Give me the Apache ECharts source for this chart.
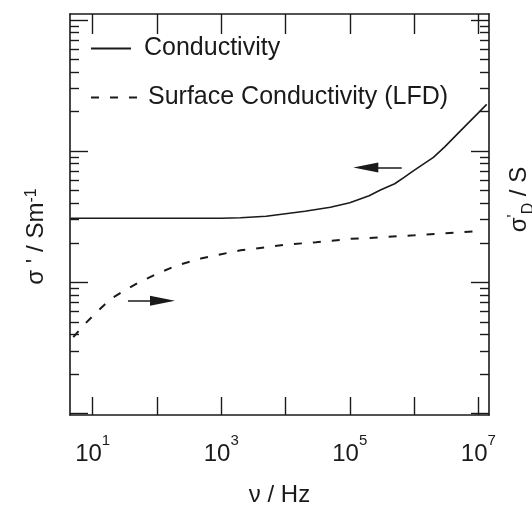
<!DOCTYPE html>
<html><head><meta charset="utf-8">
<script src="https://cdn.jsdelivr.net/npm/echarts@6/dist/echarts.min.js"></script>
<style>html,body{margin:0;padding:0;background:#fff}#c{width:532px;height:505px}</style>
</head><body><div id="c"></div>
<script>
// ---- data ----
const freqCond  = [4.5, 1e3, 2e3, 5e3, 1e4, 2e4, 5e4, 1e5, 2e5, 3e5, 5e5, 7e5, 1e6, 2e6, 3e6, 5e6, 7e6, 1e7, 1.35e7];
const condValues = [3.074e-3, 3.074e-3, 3.10e-3, 3.184e-3, 3.327e-3, 3.476e-3, 3.728e-3, 4.034e-3, 4.561e-3, 5.04e-3, 5.629e-3, 6.306e-3, 7.128e-3, 8.956e-3, 1.0765e-2, 1.388e-2, 1.639e-2, 1.953e-2, 2.266e-2];
const freqSurf  = [5, 7, 10, 15, 20, 30, 50, 70, 100, 200, 500, 1e3, 2e3, 5e3, 1e4, 3e4, 1e5, 3e5, 1e6, 3e6, 1e7];
const surfValues = [3.82e-10, 4.63e-10, 5.52e-10, 6.69e-10, 7.57e-10, 8.55e-10, 9.84e-10, 1.065e-9, 1.162e-9, 1.337e-9, 1.525e-9, 1.636e-9, 1.754e-9, 1.849e-9, 1.932e-9, 2.02e-9, 2.14e-9, 2.20e-9, 2.28e-9, 2.36e-9, 2.45e-9];

// ---- axes ----
const xRange = [4.44, 1.466e7];
const leftRange = [9.741e-5, 0.1107];
const rightRange = [9.741e-11, 1.107e-7];
const xMajorTicks = [10, 100, 1e3, 1e4, 1e5, 1e6, 1e7];
const xLabelTicks = [10, 1e3, 1e5, 1e7];
const leftDecades = [1e-5, 1e-4, 1e-3, 1e-2, 1e-1];
const rightDecades = [1e-11, 1e-10, 1e-9, 1e-8, 1e-7];
const minorMultipliers = [2, 3, 4, 5, 6, 7, 8, 9];

// ---- annotation arrows (data coordinates) ----
const arrowCond = [[6.43e5, 7.48e-3], [1.775e5, 7.48e-3]];
const arrowSurf = [[35.4, 7.22e-10], [121.9, 7.22e-10]];

const INK = '#1a1a1a';
const FONT = 'Liberation Sans';

function minors(decades) {
  const out = [];
  decades.forEach(d => minorMultipliers.forEach(m => out.push(m * d)));
  return out;
}
function pairs(xs, ys) { return xs.map((x, i) => [x, ys[i]]); }

const lineAxis = {show: true, onZero: false, lineStyle: {color: INK, width: 1.6}};
function yAx(pos, range, ticks, len, showLine, extra) {
  return Object.assign({
    type: 'log', position: pos, min: range[0], max: range[1],
    axisLine: showLine ? lineAxis : {show: false},
    axisTick: {show: true, inside: true, length: len, customValues: ticks, lineStyle: {color: INK, width: 1.4}},
    axisLabel: {show: false},
    splitLine: {show: false}, minorTick: {show: false}
  }, extra || {});
}

const chart = echarts.init(document.getElementById('c'), null, {renderer: 'canvas'});
chart.setOption({
  animation: false,
  backgroundColor: '#fff',
  textStyle: {fontFamily: FONT, color: INK},
  grid: {left: 70, right: 43, top: 14, bottom: 90, containLabel: false, outerBoundsMode: 'none'},
  legend: [
    {data: ['Conductivity'], orient: 'vertical', left: 85, top: 31, itemWidth: 40, itemHeight: 14,
     itemStyle: {opacity: 0},
     textStyle: {fontSize: 25, fontFamily: FONT, color: INK, padding: [0, 0, 4, 8]}, selectedMode: false},
    {data: ['Surface Conductivity (LFD)'], orient: 'vertical', left: 85, top: 80, itemWidth: 48, itemHeight: 14,
     itemStyle: {opacity: 0},
     textStyle: {fontSize: 25, fontFamily: FONT, color: INK, padding: [0, 0, 2, 4]}, selectedMode: false}
  ],
  xAxis: [
    {type: 'log', position: 'bottom', min: xRange[0], max: xRange[1],
     axisLine: lineAxis,
     axisTick: {show: true, inside: true, length: 18, customValues: xMajorTicks, lineStyle: {color: INK, width: 1.4}},
     axisLabel: {show: true, customValues: xLabelTicks, margin: 18, color: INK,
       formatter: v => '{b|10}{s|' + Math.round(Math.log10(v)) + '}',
       rich: {b: {fontSize: 24, fontFamily: FONT, color: INK, lineHeight: 33, verticalAlign: 'bottom'},
              s: {fontSize: 15, fontFamily: FONT, color: INK, lineHeight: 15, verticalAlign: 'top'}}},
     splitLine: {show: false}, minorTick: {show: false},
     name: 'ν / Hz', nameLocation: 'middle', nameGap: 68,
     nameTextStyle: {fontSize: 24, fontFamily: FONT, color: INK}},
    {type: 'log', position: 'top', min: xRange[0], max: xRange[1],
     axisLine: lineAxis,
     axisTick: {show: true, inside: true, length: 20, customValues: xMajorTicks, lineStyle: {color: INK, width: 1.4}},
     axisLabel: {show: false}, splitLine: {show: false}}
  ],
  yAxis: [
    yAx('left', leftRange, leftDecades, 18, true, {
      name: "σ ' / Sm{sup|-1}", nameLocation: 'middle', nameGap: 22,
      nameTextStyle: {fontSize: 24, fontFamily: FONT, color: INK, padding: [0, 44, 0, 0],
        rich: {sup: {fontSize: 16, fontFamily: FONT, color: INK, verticalAlign: 'top', lineHeight: 14}}}
    }),
    yAx('left', leftRange, minors(leftDecades), 9, false),
    yAx('right', rightRange, rightDecades, 18, true, {
      name: "σ{p|'}{sub|D} / S", nameLocation: 'middle', nameGap: 18,
      nameTextStyle: {fontSize: 24, fontFamily: FONT, color: INK, padding: [0, 0, 0, 30],
        rich: {p: {fontSize: 16, fontFamily: FONT, color: INK, verticalAlign: 'top', lineHeight: 16},
               sub: {fontSize: 16, fontFamily: FONT, color: INK, verticalAlign: 'bottom', lineHeight: 16, padding: [0, 0, -6, 0]}}}
    }),
    yAx('right', rightRange, minors(rightDecades), 9, false)
  ],
  series: [
    {type: 'line', name: 'Conductivity', xAxisIndex: 0, yAxisIndex: 0,
     data: pairs(freqCond, condValues), symbol: 'none', showSymbol: false,
     color: INK, lineStyle: {color: INK, width: 1.6, type: 'solid'},
     markLine: {silent: true, animation: false, symbol: ['none', 'triangle'], symbolSize: [10, 25],
       lineStyle: {color: INK, width: 1.6, type: 'solid'}, itemStyle: {color: INK},
       label: {show: false}, emphasis: {disabled: true},
       data: [[{coord: arrowCond[0]}, {coord: arrowCond[1]}]]}},
    {type: 'line', name: 'Surface Conductivity (LFD)', xAxisIndex: 0, yAxisIndex: 2,
     data: pairs(freqSurf, surfValues), symbol: 'none', showSymbol: false,
     color: INK, lineStyle: {color: INK, width: 2, type: [8, 11]},
     markLine: {silent: true, animation: false, symbol: ['none', 'triangle'], symbolSize: [10, 25],
       lineStyle: {color: INK, width: 1.6, type: 'solid'}, itemStyle: {color: INK},
       label: {show: false}, emphasis: {disabled: true},
       data: [[{coord: arrowSurf[0]}, {coord: arrowSurf[1]}]]}}
  ]
});
</script></body></html>
